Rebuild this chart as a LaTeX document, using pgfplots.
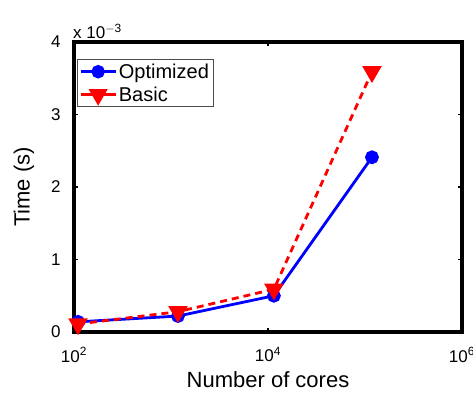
\documentclass[border=0pt]{standalone}
\usepackage{pgfplots}
\pgfplotsset{compat=1.18}
\usepackage{fontspec}
\setmainfont{Liberation Sans}
\begin{document}
\begin{tikzpicture}[font=\fontsize{17}{20}\selectfont]
\begin{axis}[
  name=ax,
  scale only axis,
  width=388pt, height=290pt,
  xmode=log,
  xmin=1e2, xmax=1e6,
  ymin=0, ymax=4,
  xtick={1e2,1e4,1e6},
  xticklabels={10\textsuperscript{2},10\textsuperscript{4},10\textsuperscript{6}},
  ytick={0,1,2,3,4},
  yticklabels={0,1,2,3,4},
  minor xtick={},
  log ticks with fixed point=false,
  tick align=inside,
  major tick length=4pt,
  tick style={black, line width=1.2pt},
  axis line style={line width=3.5pt},
  every tick label/.append style={font=\fontsize{17}{20}\selectfont},
  xticklabel style={yshift=-12pt},
  yticklabel style={xshift=-10pt},
  xlabel={Number of cores},
  ylabel={Time (s)},
  label style={font=\fontsize{22}{26}\selectfont},
  xlabel style={yshift=-2pt},
  ylabel style={yshift=10pt},
  legend style={at={(rel axis cs:0.008,0.94)}, anchor=north west, draw=black!70, line width=0.6pt, inner sep=2pt, row sep=3pt, font=\fontsize{20}{22}\selectfont},
  legend cell align=left,
  legend image post style={line width=2.5pt},
  legend image code/.code={
    \draw[#1, solid] (0pt,0pt) -- (35pt,0pt);
    \draw[#1, only marks] plot coordinates {(17.5pt,0pt)};
  },
  clip=false,
]
\addplot[blue, line width=2.8pt, mark=*, mark size=5.5pt, mark options={solid}]
  coordinates {(110,0.14) (1180,0.22) (11500,0.50) (118000,2.41)};
\addlegendentry{Optimized}
\addplot[red, line width=2.8pt, dashed, dash pattern=on 7pt off 5pt, mark=triangle*, mark size=8.5pt, mark options={solid, rotate=180}]
  coordinates {(110,0.11) (1180,0.28) (11500,0.59) (118000,3.59)};
\addlegendentry{Basic}
\node[anchor=south west, inner sep=1pt, xshift=-2pt, yshift=2pt, font=\fontsize{17}{20}\selectfont] at (rel axis cs:0,1) {x 10\textsuperscript{$-$3}};
\end{axis}
\pgfresetboundingbox
\path[use as bounding box] ([xshift=-74pt,yshift=-67pt]ax.south west) rectangle ([xshift=11pt,yshift=42pt]ax.north east);
\end{tikzpicture}
\end{document}
